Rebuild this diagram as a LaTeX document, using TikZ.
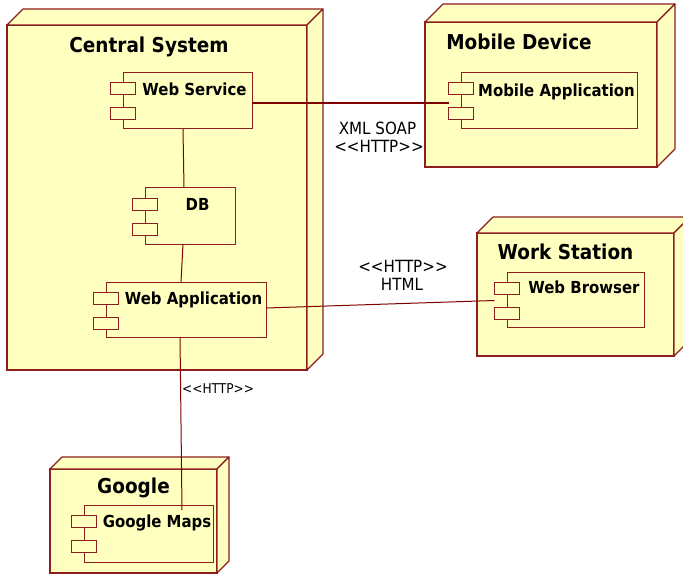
\documentclass[tikz,border=0pt]{standalone}
\usepackage{fontspec}
\setmainfont{DejaVu Sans}[FakeStretch=0.9]
\usetikzlibrary{calc}

\definecolor{boxfill}{RGB}{255,255,192}
\definecolor{boxline}{RGB}{140,30,30}
\definecolor{wirecol}{RGB}{128,0,0}

\tikzset{
  devbox/.style={draw=boxline, fill=boxfill, line width=1.1pt, inner sep=0pt, outer sep=0pt, anchor=north west},
  devface/.style={draw=boxline, fill=boxfill, line width=1.1pt, line join=round},
  compbox/.style={draw=boxline, fill=boxfill, line width=1pt, inner sep=0pt, outer sep=0pt, anchor=north west},
  portbox/.style={draw=boxline, fill=boxfill, line width=1pt, inner sep=0pt, outer sep=0pt,
                  minimum width=25pt, minimum height=12pt, anchor=north},
  devtitle/.style={font=\fontsize{20.5}{24}\selectfont\bfseries, anchor=base, inner sep=0pt},
  complabel/.style={font=\fontsize{16.6}{19}\selectfont\bfseries, anchor=base, inner sep=0pt},
  wirelabel/.style={font=\fontsize{16.8}{19}\selectfont, anchor=base, inner sep=0pt},
  wire/.style={draw=wirecol, line width=1pt},
}

% top and right faces of a deployment node box
\newcommand\devfaces[2]{%
  \path[devface] (#1.north west) -- ([shift={(#2,-#2)}]#1.north west)
     -- ([shift={(#2,-#2)}]#1.north east) -- (#1.north east) -- cycle;
  \path[devface] (#1.north east) -- ([shift={(#2,-#2)}]#1.north east)
     -- ([shift={(#2,-#2)}]#1.south east) -- (#1.south east) -- cycle;
}

% component box with its two port rectangles: name, x, y, width, height
\newcommand\component[5]{%
  \node[compbox, minimum width=#4pt, minimum height=#5pt] (#1) at (#2,#3) {};
  \node[portbox] (#1p1) at ([yshift=-10pt]#1.north west) {};
  \node[portbox] (#1p2) at ([yshift=-35pt]#1.north west) {};
}

\begin{document}
\begin{tikzpicture}[x=1pt, y=-1pt]
\useasboundingbox (0,0) rectangle (683,575);
\clip (0,0) rectangle (683,575);

% deployment nodes
\node[devbox, minimum width=300pt, minimum height=345pt] (central) at (7,25) {};
\devfaces{central}{16}
\node[devbox, minimum width=232pt, minimum height=145pt] (mobile) at (425,22) {};
\devfaces{mobile}{18}
\node[devbox, minimum width=197pt, minimum height=123pt] (work) at (477,233) {};
\devfaces{work}{16}
\node[devbox, minimum width=167pt, minimum height=104pt] (google) at (50,469) {};
\devfaces{google}{12}

\node[devtitle] (centralT) at (149,53) {Central System};
\node[devtitle] (mobileT) at (519,50) {Mobile Device};
\node[devtitle] (workT) at (565.5,259) {Work Station};
\node[devtitle] (googleT) at (133.5,493) {Google};

% components
\component{ws}{123}{73}{129}{56}
\component{db}{145}{188}{90}{56}
\component{wa}{106}{282}{160}{55}
\component{ma}{461}{73}{176}{56}
\component{wb}{507}{272}{137}{55}
\component{gm}{84}{505}{129}{57}

\node[complabel] (wsT) at (194.5,96) {Web Service};
\node[complabel] (dbT) at (197.5,211) {DB};
\node[complabel] (waT) at (193.5,304) {Web Application};
\node[complabel] (maT) at (556.5,97) {Mobile Application};
\node[complabel] (wbT) at (584,293) {Web Browser};
\node[complabel] (gmT) at (157,527) {Google Maps};

% connections
\draw[wire, line width=1.8pt] ([yshift=-2pt]ws.east) -- ([yshift=-2pt]ws.east -| map1.west);
\draw[wire] ([xshift=-4.5pt]ws.south) -- ([xshift=-6pt]db.north);
\draw[wire] ([xshift=-7pt]db.south) -- ([xshift=-5pt]wa.north);
\draw[wire] ([yshift=1.5pt]wa.east) -- ([yshift=-1pt]wb.west -| wbp1.west);
\draw[wire] ([xshift=-6pt]wa.south) -- ([xshift=33.5pt,yshift=-5pt]gm.north);

\node[wirelabel] (soapT) at (377.5,135) {XML SOAP};
\node[wirelabel] (soapH) at (379,153) {<{}<HTTP>{}>};
\node[wirelabel] (htmlH) at (403,272) {<{}<HTTP>{}>};
\node[wirelabel] (htmlT) at (402,290) {HTML};
\node[wirelabel, font=\fontsize{13.5}{16}\selectfont, anchor=base west] (mapsH) at (182,393) {<{}<HTTP>{}>};
\end{tikzpicture}
\end{document}
